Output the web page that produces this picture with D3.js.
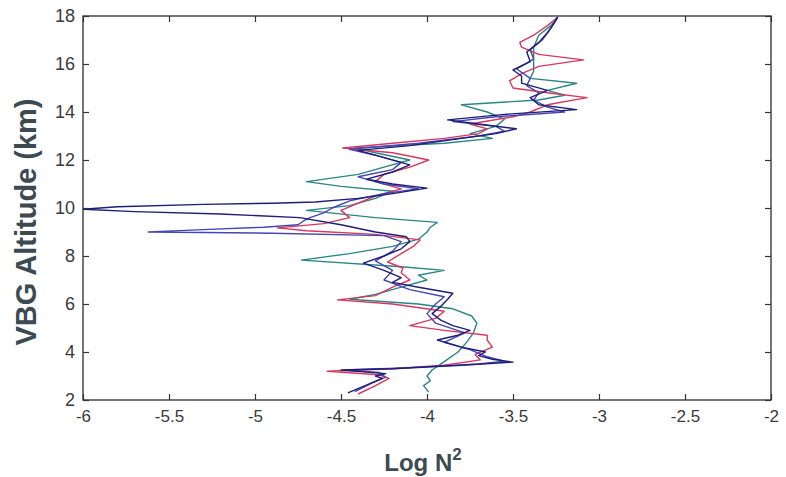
<!DOCTYPE html>
<html><head><meta charset="utf-8">
<script src="https://cdn.jsdelivr.net/npm/d3@7"></script>
<style>
body{margin:0;background:#fff;}
svg{display:block;}
</style></head>
<body>
<svg id="chart" width="786" height="477"></svg>
<script>
// Data: altitude (km) and Log N^2 pairs for each profile
const xTicks = [-6, -5.5, -5, -4.5, -4, -3.5, -3, -2.5, -2];
const yTicks = [2, 4, 6, 8, 10, 12, 14, 16, 18];

const navyAlt = [2.3,2.6,2.9,3.0,3.1,3.25,3.3,3.45,3.58,3.7,3.85,4.0,4.2,4.5,4.7,4.9,5.1,5.33,5.6,5.9,6.2,6.45,6.7,6.9,7.1,7.4,7.7,8.0,8.3,8.6,8.8,9.0,9.3,9.6,9.75,9.85,9.95,10.05,10.15,10.2,10.25,10.4,10.6,10.83,11.0,11.2,11.5,11.8,12.1,12.4,12.6,12.9,13.1,13.3,13.5,13.67,13.9,14.1,14.3,14.6,14.9,15.2,15.5,15.75,16.1,16.5,16.9,17.3,17.6,17.95];
const navyVal = [-4.46,-4.36,-4.26,-4.30,-4.24,-4.50,-4.2,-3.8,-3.5,-3.62,-3.7,-3.66,-3.8,-3.94,-3.82,-3.75,-3.85,-3.92,-3.97,-3.92,-3.88,-3.85,-4.05,-4.2,-4.15,-4.25,-4.37,-4.25,-4.15,-4.1,-4.12,-4.3,-4.5,-4.74,-5.2,-5.7,-6.0,-5.8,-5.3,-4.9,-4.65,-4.4,-4.2,-4.0,-4.2,-4.35,-4.2,-4.1,-4.25,-4.4,-4.1,-3.8,-3.6,-3.48,-3.7,-3.88,-3.55,-3.13,-3.35,-3.4,-3.3,-3.45,-3.45,-3.5,-3.4,-3.42,-3.35,-3.3,-3.27,-3.24];

const blueAlt = [2.35,2.7,2.95,3.15,3.25,3.35,3.5,3.62,3.8,4.1,4.4,4.8,5.2,5.6,6.0,6.3,6.6,7.0,7.4,7.8,8.2,8.6,8.85,8.95,9.0,9.1,9.2,9.3,9.45,9.6,9.8,10.0,10.3,10.6,10.8,11.0,11.3,11.6,11.9,12.2,12.45,12.7,13.0,13.2,13.4,13.6,13.8,14.0,14.2,14.5,14.8,15.1,15.4,15.8,16.2,16.6,17.0,17.5,17.95];
const blueVal = [-4.42,-4.32,-4.24,-4.28,-4.48,-4.1,-3.7,-3.55,-3.65,-3.75,-3.9,-3.78,-3.95,-4.0,-3.95,-3.9,-4.1,-4.25,-4.2,-4.3,-4.2,-4.15,-4.25,-4.9,-5.62,-5.3,-4.95,-4.75,-4.72,-4.68,-4.6,-4.55,-4.45,-4.25,-4.05,-4.25,-4.4,-4.2,-4.15,-4.3,-4.45,-4.05,-3.7,-3.55,-3.6,-3.85,-3.6,-3.2,-3.3,-3.38,-3.35,-3.42,-3.4,-3.48,-3.38,-3.4,-3.33,-3.28,-3.24];

const redAlt = [2.25,2.6,2.9,3.05,3.2,3.3,3.45,3.67,3.9,4.2,4.5,4.7,4.9,5.1,5.4,5.7,6.0,6.17,6.35,6.7,7.0,7.3,7.5,7.75,8.1,8.4,8.67,8.9,9.05,9.17,9.35,9.6,9.9,10.2,10.5,10.8,11.1,11.4,11.7,12.0,12.3,12.5,12.7,12.9,13.1,13.3,13.5,13.8,14.0,14.3,14.6,14.8,15.0,15.3,15.6,15.9,16.17,16.4,16.7,16.9,17.2,17.6,17.95];
const redVal = [-4.4,-4.3,-4.22,-4.28,-4.58,-4.2,-3.9,-3.69,-3.72,-3.62,-3.65,-3.65,-3.9,-4.1,-3.95,-3.9,-4.2,-4.52,-4.3,-4.2,-4.1,-4.15,-4.14,-4.23,-4.15,-4.08,-4.04,-4.3,-4.7,-4.87,-4.6,-4.45,-4.5,-4.4,-4.3,-4.15,-4.3,-4.25,-4.1,-3.99,-4.2,-4.49,-4.2,-3.9,-3.7,-3.65,-3.75,-3.5,-3.4,-3.3,-3.07,-3.3,-3.5,-3.52,-3.45,-3.35,-3.09,-3.35,-3.45,-3.46,-3.38,-3.3,-3.24];

const tealAlt = [2.33,2.6,2.8,3.0,3.25,3.6,4.0,4.4,4.8,5.2,5.5,5.8,6.0,6.2,6.4,6.7,7.0,7.2,7.4,7.55,7.83,8.1,8.4,8.7,9.0,9.2,9.4,9.6,9.9,10.1,10.4,10.7,10.9,11.1,11.4,11.7,12.0,12.3,12.5,12.7,12.9,13.1,13.4,13.7,14.0,14.3,14.5,14.7,14.9,15.2,15.4,15.7,16.2,16.7,17.2,17.6,17.95];
const tealVal = [-3.99,-4.02,-3.98,-4.0,-3.97,-3.9,-3.82,-3.77,-3.73,-3.71,-3.74,-3.85,-4.05,-4.45,-4.3,-4.15,-4.0,-4.05,-3.9,-4.15,-4.73,-4.45,-4.2,-4.05,-4.0,-3.98,-3.94,-4.3,-4.7,-4.45,-4.3,-4.2,-4.5,-4.7,-4.4,-4.25,-4.1,-4.3,-4.42,-3.9,-3.62,-3.75,-3.6,-3.55,-3.65,-3.8,-3.35,-3.2,-3.3,-3.13,-3.4,-3.38,-3.38,-3.38,-3.35,-3.28,-3.24];

const seriesColors = ["#2a8585", "#d8385e", "#4646b4", "#1e1e78"];

const series = [
  {alt: tealAlt, val: tealVal},
  {alt: redAlt, val: redVal},
  {alt: blueAlt, val: blueVal},
  {alt: navyAlt, val: navyVal}
];

const svg = d3.select("#chart");
const L = 83, R = 771, T = 16, B = 400;
const x = d3.scaleLinear().domain([-6, -2]).range([L, R]);
const y = d3.scaleLinear().domain([2, 18]).range([B, T]);

const tickFont = "'Liberation Sans Narrow','Liberation Sans',Arial,sans-serif";

// lines
const line = d3.line().x(d => x(d[0])).y(d => y(d[1]));
svg.append("clipPath").attr("id","pc").append("rect")
  .attr("x", L).attr("y", T).attr("width", R - L).attr("height", B - T);
const g = svg.append("g").attr("clip-path","url(#pc)");
series.forEach((s, i) => {
  const pts = s.alt.map((a, j) => [s.val[j], a]);
  g.append("path").datum(pts)
    .attr("d", line)
    .attr("fill","none")
    .attr("stroke", seriesColors[i])
    .attr("stroke-width", 1.4)
    .attr("stroke-linejoin","round");
});

// frame
svg.append("rect").attr("x", L).attr("y", T).attr("width", R - L).attr("height", B - T)
  .attr("fill","none").attr("stroke","#2b2b2b").attr("stroke-width",1.3);

// axes with inward ticks
const fmt = d => String(d);
const xAxis = d3.axisBottom(x).tickValues(xTicks).tickSize(-6).tickPadding(10).tickFormat(fmt);
const gx = svg.append("g").attr("transform", `translate(0,${B})`).call(xAxis);
const yAxis = d3.axisLeft(y).tickValues(yTicks).tickSize(-6).tickPadding(8).tickFormat(fmt);
const gy = svg.append("g").attr("transform", `translate(${L},0)`).call(yAxis);
const xTop = d3.axisTop(x).tickValues(xTicks).tickSize(-6).tickFormat("");
svg.append("g").attr("transform", `translate(0,${T})`).call(xTop);
const yRight = d3.axisRight(y).tickValues(yTicks).tickSize(-6).tickFormat("");
svg.append("g").attr("transform", `translate(${R},0)`).call(yRight);

svg.selectAll(".domain").remove();
svg.selectAll(".tick line").attr("stroke","#333").attr("stroke-width",1.2);
gx.selectAll("text").attr("font-family", tickFont).attr("font-size", 17).attr("fill","#3a3a3a");
gy.selectAll("text").attr("font-family", tickFont).attr("font-size", 18).attr("fill","#3a3a3a");

// axis titles
svg.append("text")
  .attr("transform", `translate(36,${(T + B) / 2 + 14}) rotate(-90)`)
  .attr("text-anchor","middle")
  .attr("font-family","'Liberation Sans',Arial,sans-serif")
  .attr("font-weight","bold")
  .attr("font-size", 29)
  .attr("fill","#3c4a52")
  .text("VBG Altitude (km)");

const xt = svg.append("text")
  .attr("x", (L + R) / 2 - 4)
  .attr("y", 471)
  .attr("text-anchor","middle")
  .attr("font-family","'Liberation Sans',Arial,sans-serif")
  .attr("font-weight","bold")
  .attr("font-size", 24)
  .attr("fill","#3c4a52");
xt.append("tspan").text("Log N");
xt.append("tspan").attr("dy", -11).attr("font-size", 17).text("2");
</script>
</body></html>
